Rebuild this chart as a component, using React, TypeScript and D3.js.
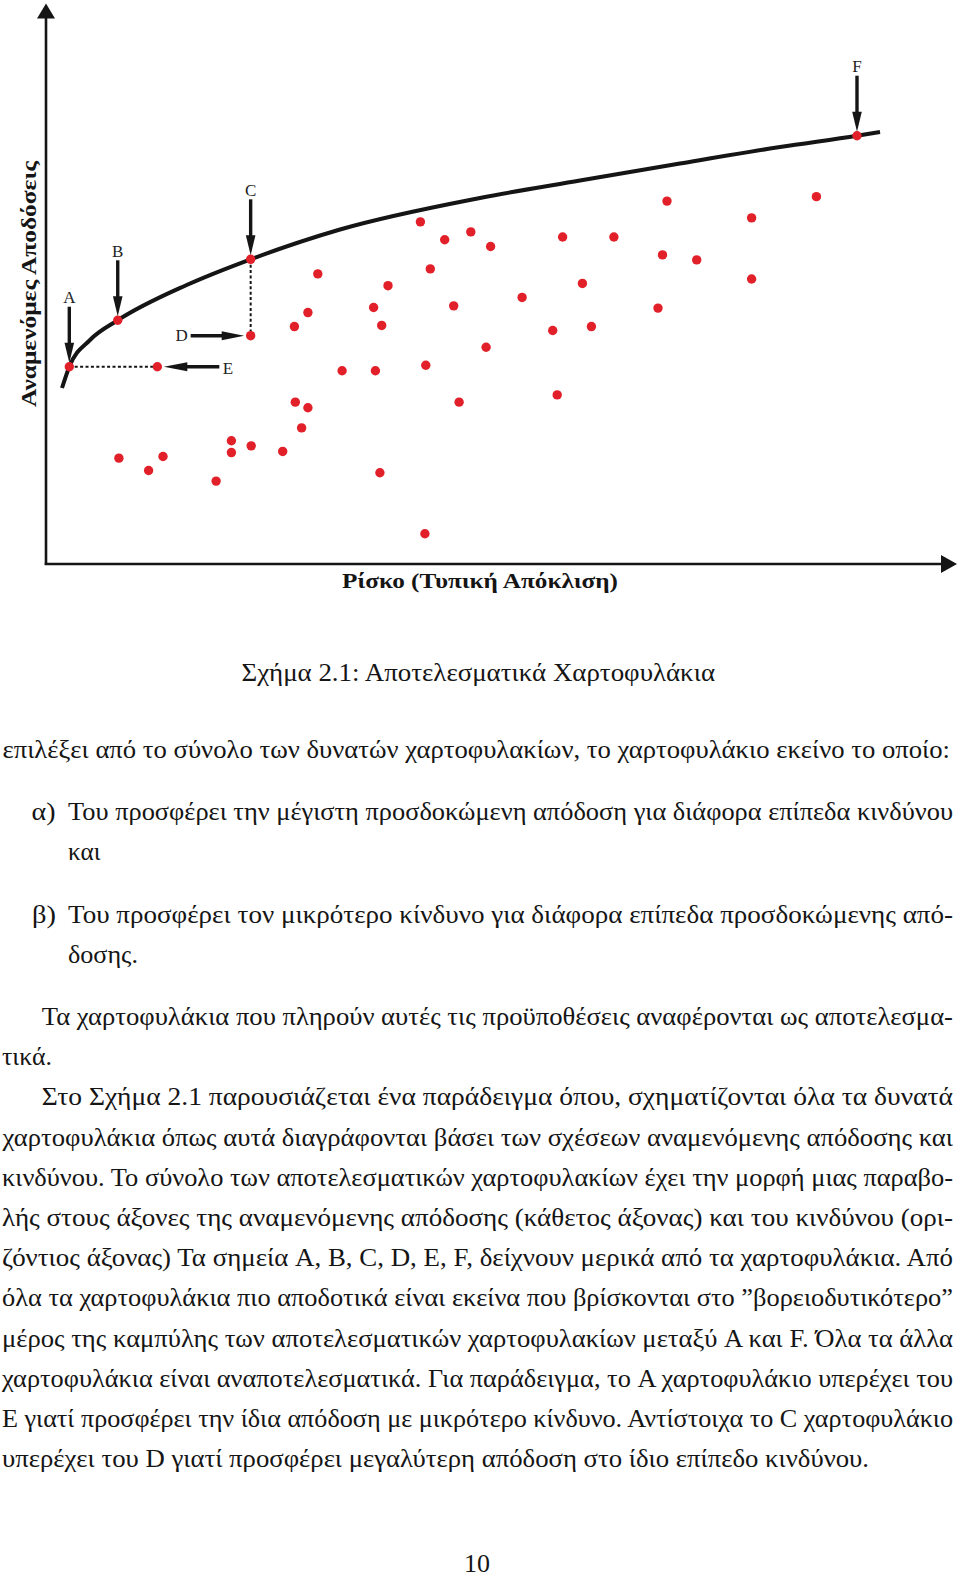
import React from "react";
import * as d3 from "d3";

// ---------- chart data (risk = x, expected return = y, arbitrary 0..100 units) ----------
const scatterRisk = [
  8.1, 11.4, 13.0, 18.9, 20.6, 20.6, 22.8, 26.3, 27.7, 29.1, 28.4, 27.6, 29.1, 30.2,
  32.9, 36.6, 36.4, 37.3, 38.0, 41.6, 44.3, 47.2, 49.4, 42.7, 45.3, 42.2, 45.9, 37.1,
  42.1, 48.9, 52.9, 56.3, 57.4, 56.8, 59.6, 60.6, 63.1, 68.0, 68.5, 69.0, 72.3, 78.4,
  78.4, 85.6,
];
const scatterReturn = [
  18.9, 16.7, 19.2, 14.8, 22.0, 19.9, 21.1, 20.1, 28.9, 27.9, 24.3, 42.4, 44.9, 51.8,
  34.5, 34.5, 45.8, 42.6, 49.7, 61.1, 57.9, 59.3, 56.7, 52.7, 46.1, 35.5, 28.9, 16.3,
  5.4, 38.7, 47.6, 41.7, 58.4, 30.2, 50.1, 42.4, 58.4, 45.7, 55.2, 64.8, 54.3, 61.8,
  50.9, 65.6,
];

const frontierRisk = [1.78, 2.59, 4.89, 7.97, 15.63, 22.74, 32.67, 48.22, 59.33, 70.44, 81.56, 90.11, 92.67];
const frontierReturn = [31.43, 35.23, 40.0, 43.52, 49.82, 54.41, 59.73, 65.36, 68.48, 71.52, 74.46, 76.48, 77.14];

const labelNames = ["A", "B", "C", "D", "E", "F"];
const labelRisk = [2.59, 7.97, 22.74, 22.74, 12.37, 90.11];
const labelReturn = [35.23, 43.52, 54.41, 40.77, 35.23, 76.48];
// direction the annotation arrow points from its label
const labelArrow = ["down", "down", "down", "right", "left", "down"];

const xAxisTitle = "Ρίσκο (Τυπική Απόκλιση)";
const yAxisTitle = "Αναμενόμες Αποδόσεις";

// ---------- page text ----------
const pageLines = [
  "Σχήμα 2.1: Αποτελεσματικά Χαρτοφυλάκια",
  "επιλέξει από το σύνολο των δυνατών χαρτοφυλακίων, το χαρτοφυλάκιο εκείνο το οποίο:",
  "α)",
  "Του προσφέρει την μέγιστη προσδοκώμενη απόδοση για διάφορα επίπεδα κινδύνου",
  "και",
  "β)",
  "Του προσφέρει τον μικρότερο κίνδυνο για διάφορα επίπεδα προσδοκώμενης από-",
  "δοσης.",
  "Τα χαρτοφυλάκια που πληρούν αυτές τις προϋποθέσεις αναφέρονται ως αποτελεσμα-",
  "τικά.",
  "Στο Σχήμα 2.1 παρουσιάζεται ένα παράδειγμα όπου, σχηματίζονται όλα τα δυνατά",
  "χαρτοφυλάκια όπως αυτά διαγράφονται βάσει των σχέσεων αναμενόμενης απόδοσης και",
  "κινδύνου. Το σύνολο των αποτελεσματικών χαρτοφυλακίων έχει την μορφή μιας παραβο-",
  "λής στους άξονες της αναμενόμενης απόδοσης (κάθετος άξονας) και του κινδύνου (ορι-",
  "ζόντιος άξονας) Τα σημεία A, B, C, D, E, F, δείχνουν μερικά από τα χαρτοφυλάκια. Από",
  "όλα τα χαρτοφυλάκια πιο αποδοτικά είναι εκείνα που βρίσκονται στο ”βορειοδυτικότερο”",
  "μέρος της καμπύλης των αποτελεσματικών χαρτοφυλακίων μεταξύ A και F. Όλα τα άλλα",
  "χαρτοφυλάκια είναι αναποτελεσματικά. Για παράδειγμα, το A χαρτοφυλάκιο υπερέχει του",
  "E γιατί προσφέρει την ίδια απόδοση με μικρότερο κίνδυνο. Αντίστοιχα το C χαρτοφυλάκιο",
  "υπερέχει του D γιατί προσφέρει μεγαλύτερη απόδοση στο ίδιο επίπεδο κινδύνου.",
  "10",
];
// layout: [x start, x end, baseline]
const pageLayout: [number, number, number][] = [
  [241.5, 715, 680.7],
  [2.5, 950, 758],
  [31.5, 55.5, 819.8],
  [68, 953, 819.8],
  [68, 100.5, 860],
  [32, 56, 922.5],
  [68, 953, 922.5],
  [68, 138, 962.7],
  [41.7, 953, 1025],
  [2, 52, 1065.2],
  [41.7, 953, 1105.4],
  [2.5, 953, 1145.6],
  [2, 953, 1185.8],
  [2, 953, 1226],
  [2, 953, 1266.2],
  [2, 953, 1306.4],
  [2, 953, 1346.6],
  [2, 953, 1386.8],
  [2, 953, 1427],
  [2, 869, 1467.2],
  [464, 490, 1571.5],
];

const W = 960;
const H = 1576;
const INK = "#151515";
const RED = "#e2202a";

export default function App() {
  const xS = d3.scaleLinear().domain([0, 100]).range([46, 946]);
  const yS = d3.scaleLinear().domain([0, 100]).range([564, 4]);

  const frontier = frontierRisk.map((r, i) => [r, frontierReturn[i]] as [number, number]);
  const frontierPath = d3
    .line<[number, number]>()
    .x((d) => xS(d[0]))
    .y((d) => yS(d[1]))
    .curve(d3.curveMonotoneX)(frontier) as string;

  const pts = labelNames.map((n, i) => ({
    name: n,
    x: xS(labelRisk[i]),
    y: yS(labelReturn[i]),
    dir: labelArrow[i],
  }));
  const byName = (n: string) => pts.find((p) => p.name === n)!;
  const A = byName("A");
  const C = byName("C");
  const D = byName("D");
  const E = byName("E");

  const x0 = xS(0);
  const y0 = yS(0);

  const renderArrow = (p: { name: string; x: number; y: number; dir: string }) => {
    const items: JSX.Element[] = [];
    if (p.dir === "down") {
      items.push(
        <line key="s" x1={p.x} y1={p.y - 60} x2={p.x} y2={p.y - 22} stroke={INK} strokeWidth={3.4} />,
        <polygon key="h" points={`${p.x - 4.8},${p.y - 24} ${p.x + 4.8},${p.y - 24} ${p.x},${p.y - 4}`} fill={INK} />,
        <text key="t" x={p.x} y={p.y - 69} textAnchor="middle" dominantBaseline="central"
          fontFamily="Liberation Serif" fontSize={17} fill="#222">{p.name}</text>
      );
    } else if (p.dir === "right") {
      items.push(
        <line key="s" x1={p.x - 60} y1={p.y} x2={p.x - 27} y2={p.y} stroke={INK} strokeWidth={3.4} />,
        <polygon key="h" points={`${p.x - 29},${p.y - 4.5} ${p.x - 29},${p.y + 4.5} ${p.x - 6.5},${p.y}`} fill={INK} />,
        <text key="t" x={p.x - 69} y={p.y} textAnchor="middle" dominantBaseline="central"
          fontFamily="Liberation Serif" fontSize={17} fill="#222">{p.name}</text>
      );
    } else {
      items.push(
        <line key="s" x1={p.x + 62} y1={p.y} x2={p.x + 28} y2={p.y} stroke={INK} strokeWidth={3.4} />,
        <polygon key="h" points={`${p.x + 30},${p.y - 4.5} ${p.x + 30},${p.y + 4.5} ${p.x + 6.5},${p.y}`} fill={INK} />,
        <text key="t" x={p.x + 70.5} y={p.y + 2} textAnchor="middle" dominantBaseline="central"
          fontFamily="Liberation Serif" fontSize={17} fill="#222">{p.name}</text>
      );
    }
    return <g key={p.name}>{items}</g>;
  };

  return (
    <svg
      width={W}
      height={H}
      viewBox={`0 0 ${W} ${H}`}
      style={{ position: "absolute", left: 0, top: 0, display: "block", background: "#fff" }}
    >
      <rect x={0} y={0} width={W} height={H} fill="#fff" />

      {/* axes */}
      <line x1={x0} y1={y0 + 1} x2={x0} y2={18} stroke={INK} strokeWidth={2.6} />
      <polygon points={`${x0 - 9},18.5 ${x0 + 9},18.5 ${x0},3.5`} fill={INK} />
      <line x1={x0 - 1.3} y1={y0} x2={942} y2={y0} stroke={INK} strokeWidth={2.6} />
      <polygon points={`941,${y0 - 9} 941,${y0 + 9} 957,${y0}`} fill={INK} />

      {/* axis titles */}
      <text x={480} y={588} textAnchor="middle" fontFamily="Liberation Serif" fontWeight="bold"
        fontSize={22} fill={INK} textLength={276} lengthAdjust="spacingAndGlyphs">{xAxisTitle}</text>
      <text transform="translate(36,284) rotate(-90)" textAnchor="middle" fontFamily="Liberation Serif"
        fontWeight="bold" fontSize={22} fill={INK} textLength={246} lengthAdjust="spacingAndGlyphs">{yAxisTitle}</text>

      {/* dotted guides */}
      <line x1={A.x} y1={A.y} x2={E.x} y2={E.y} stroke={INK} strokeWidth={2} strokeDasharray="3,2.4" />
      <line x1={C.x} y1={C.y} x2={D.x} y2={D.y} stroke={INK} strokeWidth={2} strokeDasharray="3,2.4" />

      {/* efficient frontier */}
      <path d={frontierPath} fill="none" stroke={INK} strokeWidth={4} strokeLinecap="butt" />

      {/* portfolios */}
      {scatterRisk.map((r, i) => (
        <circle key={i} cx={xS(r)} cy={yS(scatterReturn[i])} r={4.7} fill={RED} />
      ))}
      {pts.map((p) => (
        <circle key={"l" + p.name} cx={p.x} cy={p.y} r={4.7} fill={RED} />
      ))}

      {/* annotations */}
      {pts.map((p) => renderArrow(p))}

      {/* page text */}
      {pageLines.map((t, i) => {
        const [xs, xe, yb] = pageLayout[i];
        return (
          <text key={"p" + i} x={xs} y={yb} fontFamily="Liberation Serif" fontSize={26} fill={INK}
            textLength={xe - xs} lengthAdjust="spacingAndGlyphs">{t}</text>
        );
      })}
    </svg>
  );
}
